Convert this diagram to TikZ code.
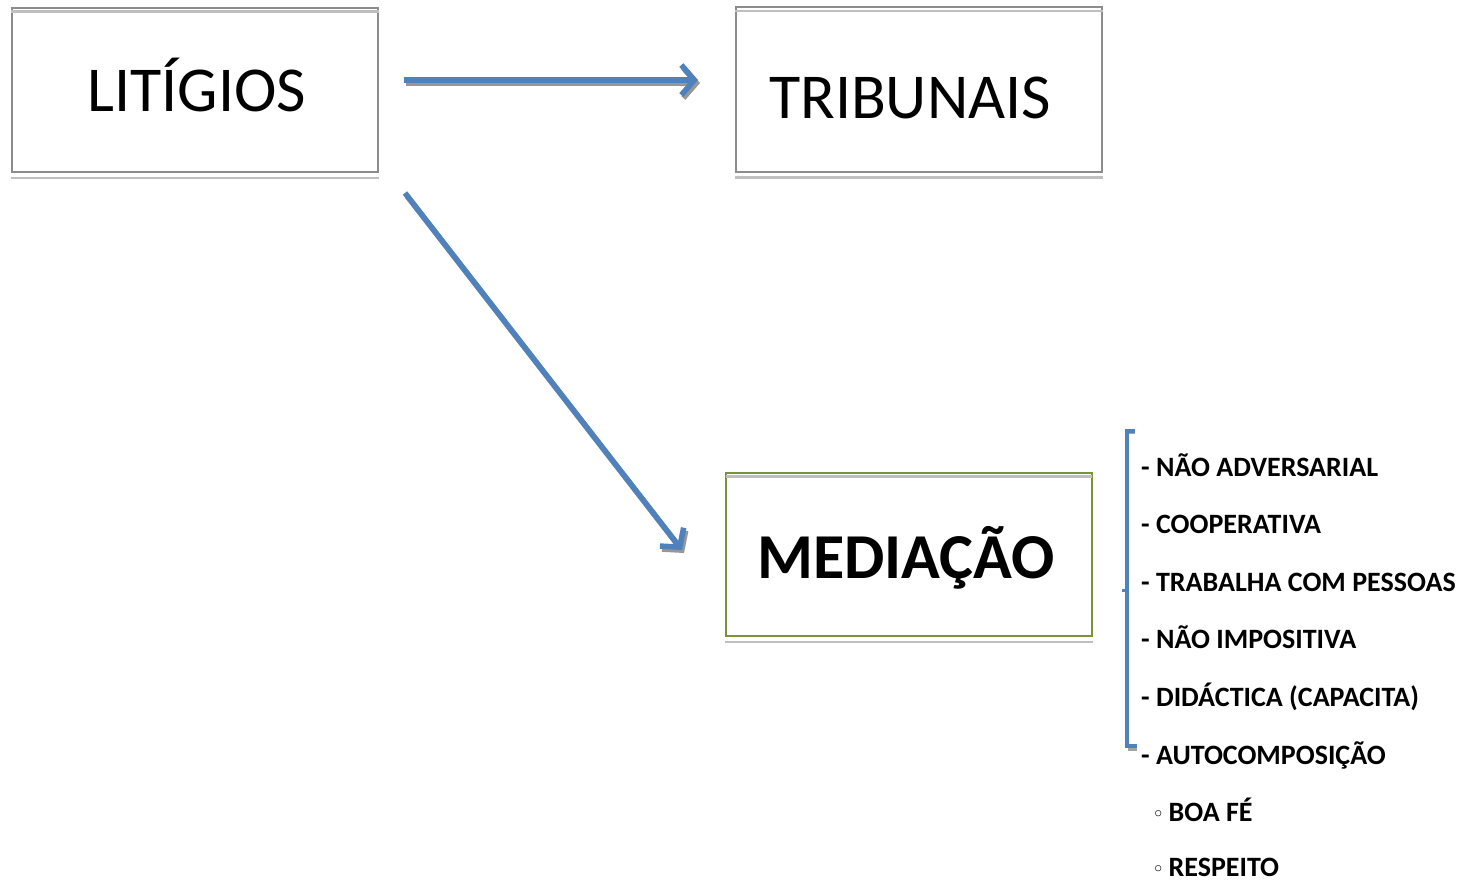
\documentclass[tikz,border=0pt]{standalone}
\usepackage{fontspec}
\setmainfont{Carlito}
\newfontfamily\symfont{DejaVu Sans}
\usetikzlibrary{arrows.meta,calc}
\definecolor{arrowblue}{HTML}{4F81BD}
\definecolor{boxgray}{HTML}{8C8C8C}
\definecolor{shadegray}{HTML}{BFBFBF}
\definecolor{boxgreen}{HTML}{77933C}
\tikzset{
  boxshape/.style={draw=boxgray, line width=2pt, minimum width=366pt, minimum height=164pt, inner sep=0pt},
  greenshape/.style={draw=boxgreen, line width=2pt, minimum width=366pt, minimum height=163pt, inner sep=0pt},
  shadeline/.style={shadegray, line width=2.5pt},
  bigtxt/.style={font=\fontsize{64}{70}\selectfont, anchor=base, inner sep=0pt},
  bigbold/.style={font=\bfseries\fontsize{64}{70}\selectfont, anchor=base, inner sep=0pt},
  itemtxt/.style={font=\bfseries\fontsize{28}{30}\selectfont, anchor=base west, inner sep=0pt},
  tipshape/.style={-{Straight Barb[length=13pt,width=30pt,line width=0pt 1]}},
  bluearrow/.style={arrowblue, line width=5.5pt, tipshape},
  shadowarrow/.style={boxgray!90, line width=5.5pt, tipshape, transform canvas={shift={(2pt,-3pt)}}},
  bracketline/.style={arrowblue, line width=4pt},
}
\begin{document}
\begin{tikzpicture}[x=1pt,y=-1pt]
\useasboundingbox (0,0) rectangle (1466,880);
% boxes
\node[boxshape] (lit) at (195,90) {};
\draw[shadeline] ($(lit.north west)+(0,4.5)$) -- ($(lit.north east)+(0,4.5)$);
\draw[shadeline] ($(lit.south west)+(0,5)$) -- ($(lit.south east)+(0,5)$);
\node[bigtxt] (littxt) at (197,112) {LITÍGIOS};

\node[boxshape] (trib) at (918.5,89.5) {};
\draw[shadeline] ($(trib.north west)+(0,4.5)$) -- ($(trib.north east)+(0,4.5)$);
\draw[shadeline] ($(trib.south west)+(0,5)$) -- ($(trib.south east)+(0,5)$);
\node[bigtxt] (tribtxt) at (910,118) {TRIBUNAIS};

\node[greenshape] (med) at (909,554.5) {};
\draw[shadeline] ($(med.north west)+(1,4.5)$) -- ($(med.north east)+(-1,4.5)$);
\draw[shadeline] ($(med.south west)+(0,5)$) -- ($(med.south east)+(0,5)$);
\node[bigbold] (medtxt) at (906,578) {MEDIAÇÃO};

% arrows
\coordinate (a1s) at (404,80);
\coordinate (a1e) at (698,80);
\coordinate (a2s) at (405,193);
\coordinate (a2e) at (682,550);
\draw[shadowarrow] (a1s) -- (a1e);
\draw[shadowarrow] (a2s) -- (a2e);
\draw[bluearrow] (a1s) -- (a1e);
\draw[bluearrow] (a2s) -- (a2e);

% bracket
\coordinate (bt) at (1127,431);
\coordinate (bb) at (1127,746);
\draw[boxgray!80, line width=3pt] ($(bt)+(1,1)$) -- ($(bt)+(8,1)$);
\draw[boxgray!80, line width=3pt] ($(bb)+(1,3)$) -- ($(bb)+(10,3)$);
\draw[bracketline] ($(bt)+(8,0)$) -- (bt) -- (bb) -- ($(bb)+(10,0)$);
\draw[bracketline, line width=3pt] (1127,590) -- (1122,590);

% list
\node[itemtxt] (i1) at (1141,476) {- NÃO ADVERSARIAL};
\node[itemtxt] (i2) at (1141,533) {- COOPERATIVA};
\node[itemtxt] (i3) at (1141,591) {- TRABALHA COM PESSOAS};
\node[itemtxt] (i4) at (1141,648) {- NÃO IMPOSITIVA};
\node[itemtxt] (i5) at (1141,706) {- DIDÁCTICA (CAPACITA)};
\node[itemtxt] (i6) at (1141,764) {- AUTOCOMPOSIÇÃO};
\node[itemtxt] (i7) at (1152,821) {{\symfont\mdseries\fontsize{21}{22}\selectfont ◦}\hspace{4pt}BOA FÉ};
\node[itemtxt] (i8) at (1152,876) {{\symfont\mdseries\fontsize{21}{22}\selectfont ◦}\hspace{4pt}RESPEITO};
\end{tikzpicture}
\end{document}
